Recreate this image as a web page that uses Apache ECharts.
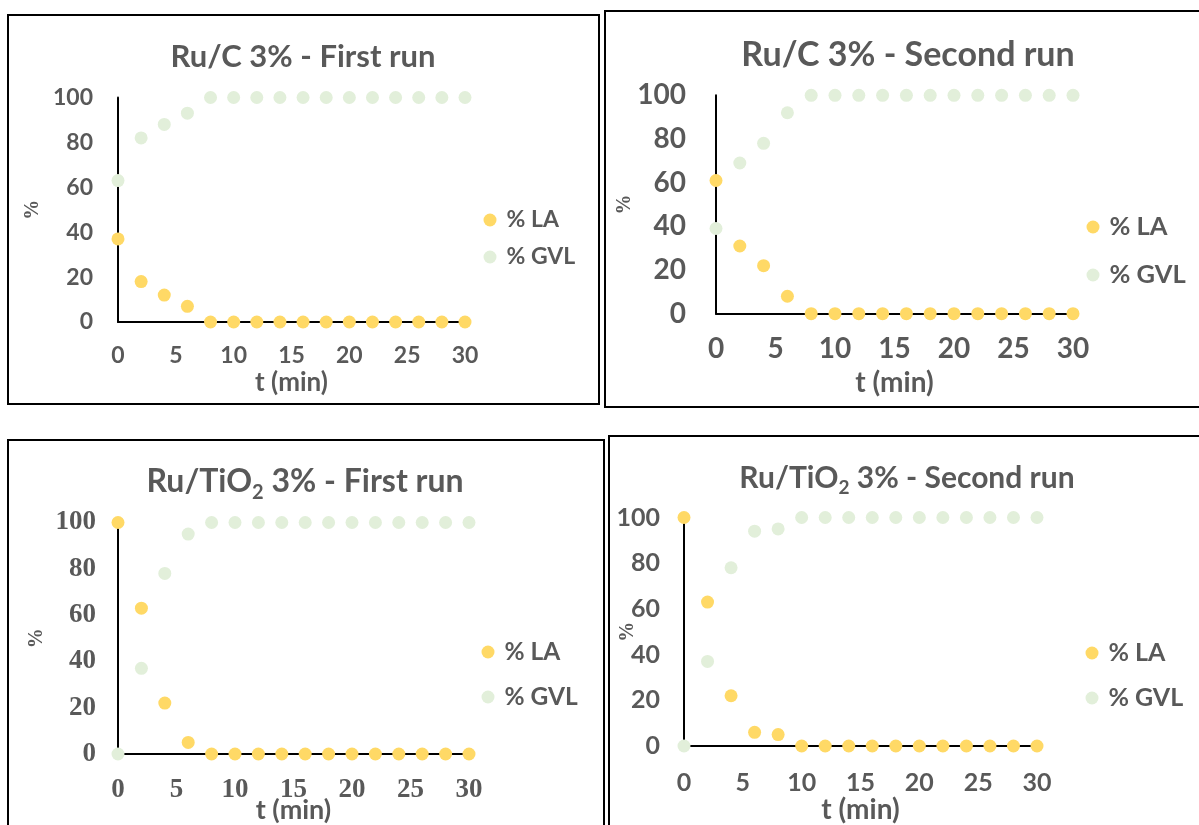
<!DOCTYPE html>
<html>
<head>
<meta charset="utf-8">
<script src="https://cdn.jsdelivr.net/npm/echarts@6/dist/echarts.min.js"></script>
<style>
  html, body { margin: 0; padding: 0; background: #fff; }
  #chart { width: 1199px; height: 825px; }
</style>
</head>
<body>
<div id="chart"></div>
<script>
// Sampling times (min)
const times = [0, 2, 4, 6, 8, 10, 12, 14, 16, 18, 20, 22, 24, 26, 28, 30];

// Ru/C 3% - first run
const ruCFirstLA  = [37, 18, 12, 7, 0, 0, 0, 0, 0, 0, 0, 0, 0, 0, 0, 0];
const ruCFirstGVL = [63, 82, 88, 93, 100, 100, 100, 100, 100, 100, 100, 100, 100, 100, 100, 100];

// Ru/C 3% - second run
const ruCSecondLA  = [61, 31, 22, 8, 0, 0, 0, 0, 0, 0, 0, 0, 0, 0, 0, 0];
const ruCSecondGVL = [39, 69, 78, 92, 100, 100, 100, 100, 100, 100, 100, 100, 100, 100, 100, 100];

// Ru/TiO2 3% - first run
const ruTiFirstLA  = [100, 63, 22, 5, 0, 0, 0, 0, 0, 0, 0, 0, 0, 0, 0, 0];
const ruTiFirstGVL = [0, 37, 78, 95, 100, 100, 100, 100, 100, 100, 100, 100, 100, 100, 100, 100];

// Ru/TiO2 3% - second run
const ruTiSecondLA  = [100, 63, 22, 6, 5, 0, 0, 0, 0, 0, 0, 0, 0, 0, 0, 0];
const ruTiSecondGVL = [0, 37, 78, 94, 95, 100, 100, 100, 100, 100, 100, 100, 100, 100, 100, 100];

const seriesNames = ['% LA', '% GVL'];
const panelTitles = [
  'Ru/C 3% - First run',
  'Ru/C 3% - Second run',
  'Ru/TiO{sub|2} 3% - First run',
  'Ru/TiO{sub|2} 3% - Second run'
];
const xAxisName = 't (min)';
const yAxisName = '%';

const panelData = [
  [ruCFirstLA, ruCFirstGVL],
  [ruCSecondLA, ruCSecondGVL],
  [ruTiFirstLA, ruTiFirstGVL],
  [ruTiSecondLA, ruTiSecondGVL]
];

// Layout and styling of each panel
const SANS = 'Lato, "Open Sans", sans-serif';
const SERIF = '"Liberation Serif", "DejaVu Serif", serif';
const GREY = '#595959';
const COLORS = ['#FFD966', '#E2EFDA'];

const panels = [
  { grid: { left: 118, top: 97.5, width: 347, height: 224.5 },
    box: { x: 8, y: 15, width: 591, height: 389 },
    title: { x: 303, y: 57, size: 31 },
    tickFont: SANS, tickSize: 23, xMargin: 22, yMargin: 25,
    xNameGap: 48, xNameSize: 26, yNameGap: 75, pctFont: SERIF,
    legend: { left: 483.5, top: 208, size: 23, lh: 24, gap: 13 } },
  { grid: { left: 716, top: 95.3, width: 357, height: 218.4 },
    box: { x: 605, y: 11, width: 600, height: 396 },
    title: { x: 908, y: 55, size: 34 },
    tickFont: SANS, tickSize: 28, xMargin: 21, yMargin: 30,
    xNameGap: 55, xNameSize: 28, yNameGap: 81, pctFont: SERIF,
    legend: { left: 1086.5, top: 213, size: 25.5, lh: 28, gap: 20 } },
  { grid: { left: 118, top: 522.5, width: 351, height: 235.5 },
    box: { x: 8, y: 440, width: 596, height: 500 },
    title: { x: 305, y: 482, size: 32 },
    tickFont: SERIF, tickSize: 27, xMargin: 23, yMargin: 22,
    xNameGap: 43, xNameSize: 27, yNameGap: 71, pctFont: SERIF,
    legend: { left: 481.5, top: 639, size: 24.5, lh: 26, gap: 19 } },
  { grid: { left: 684, top: 517.5, width: 353, height: 228.5 },
    box: { x: 609, y: 436, width: 600, height: 500 },
    title: { x: 907, y: 478, size: 30 },
    tickFont: SANS, tickSize: 25, xMargin: 24, yMargin: 24,
    xNameGap: 50, xNameSize: 28, yNameGap: 46, pctFont: SERIF,
    legend: { left: 1085.5, top: 640, size: 25, lh: 26, gap: 19 } }
];

const grids = [], xAxes = [], yAxes = [], series = [], legends = [], graphics = [];

panels.forEach(function (p, i) {
  grids.push(Object.assign({ containLabel: false }, p.grid));

  xAxes.push({
    gridIndex: i, type: 'value', min: 0, max: 30, interval: 5,
    name: xAxisName, nameLocation: 'middle', nameGap: p.xNameGap, nameMoveOverlap: false,
    nameTextStyle: { fontFamily: SANS, fontWeight: 'bold', fontSize: p.xNameSize, color: GREY },
    axisLine: { show: true, onZero: false, lineStyle: { color: '#000', width: 2 } },
    axisTick: { show: false }, splitLine: { show: false },
    axisLabel: { fontFamily: p.tickFont, fontWeight: 'bold', fontSize: p.tickSize, color: GREY, margin: p.xMargin }
  });

  yAxes.push({
    gridIndex: i, type: 'value', min: 0, max: 100, interval: 20,
    name: yAxisName, nameLocation: 'middle', nameGap: p.yNameGap, nameRotate: 90, nameMoveOverlap: false,
    nameTextStyle: { fontFamily: p.pctFont, fontWeight: 'bold', fontSize: 20, color: GREY },
    axisLine: { show: true, onZero: false, lineStyle: { color: '#000', width: 2 } },
    axisTick: { show: false }, splitLine: { show: false },
    axisLabel: { fontFamily: p.tickFont, fontWeight: 'bold', fontSize: p.tickSize, color: GREY, margin: p.yMargin }
  });

  // GVL first so LA points sit on top
  [1, 0].forEach(function (k) {
    series.push({
      name: seriesNames[k], type: 'scatter',
      xAxisIndex: i, yAxisIndex: i,
      symbol: 'circle', symbolSize: 13,
      itemStyle: { color: COLORS[k], opacity: 1 },
      emphasis: { disabled: true },
      z: k === 0 ? 3 : 2,
      data: times.map(function (t, j) { return [t, panelData[i][k][j]]; })
    });
  });

  legends.push({
    data: seriesNames.slice(), orient: 'vertical',
    left: p.legend.left, top: p.legend.top, padding: 0,
    icon: 'circle', itemWidth: 13, itemHeight: 13, itemGap: p.legend.gap,
    selectedMode: false,
    textStyle: { fontFamily: SANS, fontWeight: 'bold', fontSize: p.legend.size,
                 lineHeight: p.legend.lh, color: GREY, padding: [0, 0, 0, 5] }
  });

  graphics.push({
    type: 'rect', shape: p.box, silent: true, z: 0,
    style: { fill: 'none', stroke: '#000', lineWidth: 2 }
  });

  graphics.push({
    type: 'text', x: p.title.x, y: p.title.y, silent: true,
    style: {
      text: panelTitles[i],
      fill: GREY,
      fontFamily: SANS, fontWeight: 'bold', fontSize: p.title.size,
      lineHeight: Math.round(p.title.size * 1.3),
      textAlign: 'center', textVerticalAlign: 'middle',
      align: 'center', verticalAlign: 'middle',
      rich: {
        sub: { fontFamily: SANS, fontWeight: 'bold', fontSize: Math.round(p.title.size * 0.62),
               lineHeight: Math.round(p.title.size * 0.62), verticalAlign: 'bottom', fill: GREY }
      }
    }
  });
});

const chart = echarts.init(document.getElementById('chart'), null, { renderer: 'canvas' });
chart.setOption({
  backgroundColor: '#ffffff',
  animation: false,
  grid: grids,
  xAxis: xAxes,
  yAxis: yAxes,
  legend: legends,
  series: series,
  graphic: { elements: graphics }
});
</script>
</body>
</html>
